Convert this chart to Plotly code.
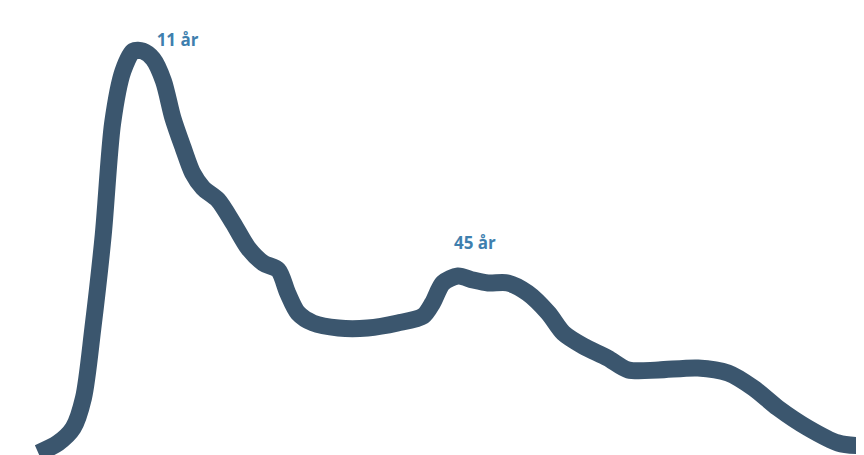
import plotly.graph_objects as go

# age (years) and relative frequency
ages = [0.4, 2.5, 4.1, 5.2, 6.2, 7.3, 8.3, 9.4, 10.5, 11.5, 12.6, 13.7, 14.7, 15.8,
        16.8, 17.9, 19.5, 21.1, 22.7, 24.3, 25.9, 26.9, 28.0, 29.6, 32.3, 35.4,
        38.6, 41.3, 42.3, 43.4, 45.0, 46.6, 48.2, 50.3, 52.4, 54.6, 56.2, 58.3,
        60.9, 63.1, 66.3, 70.5, 73.7, 76.4, 79.0, 82.2, 85.4, 88.0]
values = [10, 20, 35, 65, 135, 228, 340, 392, 412, 412, 404, 382, 345, 315,
          290, 275, 263, 240, 215, 200, 193, 170, 150, 140, 135, 135,
          140, 147, 160, 180, 187, 183, 180, 180, 170, 150, 130, 117,
          105, 93, 93, 95, 90, 75, 55, 35, 20, 17]

label_text = ["11 år", "45 år"]
label_x = [15.2, 46.8]
label_y = [421, 218]

fig = go.Figure()
fig.add_trace(go.Scatter(
    x=ages, y=values, mode="lines",
    line=dict(color="#3b566e", width=17, shape="spline", smoothing=0.8),
    hoverinfo="skip",
))
fig.add_trace(go.Scatter(
    x=label_x, y=label_y, mode="text", text=label_text,
    textfont=dict(family="Open Sans", size=17, color="#3f7fae", weight="bold"),
    hoverinfo="skip",
))
fig.update_layout(
    width=864, height=455,
    margin=dict(l=0, r=0, t=0, b=0),
    paper_bgcolor="white", plot_bgcolor="white",
    showlegend=False,
    xaxis=dict(range=[-2.82, 89.0], visible=False),
    yaxis=dict(range=[0, 455], visible=False),
)
fig.write_html("out.html")
